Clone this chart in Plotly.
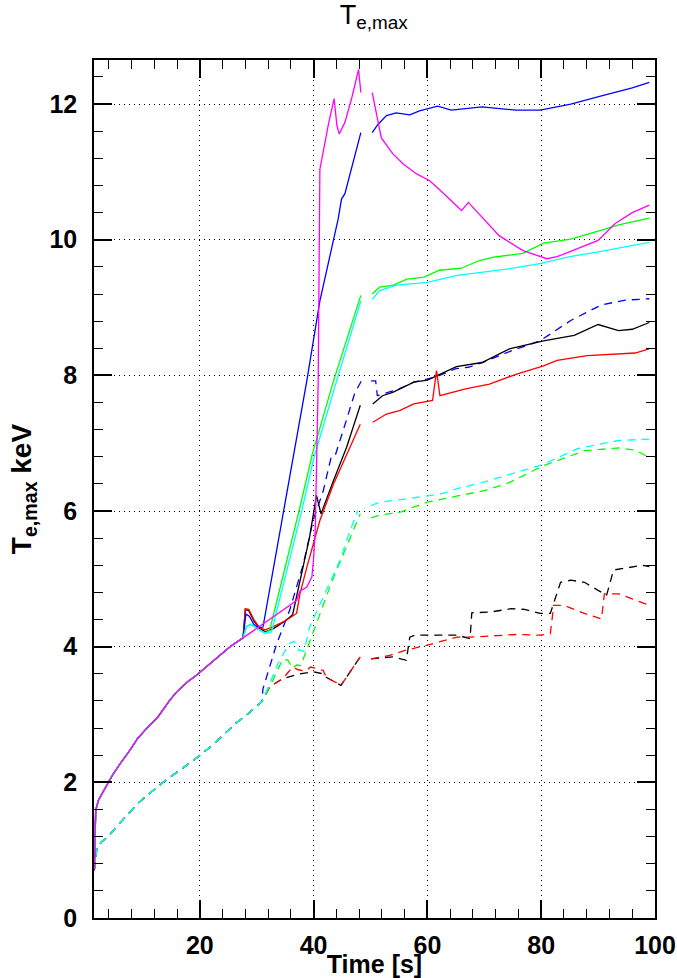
import plotly.graph_objects as go

# ---------------- data ----------------
# common start of all solid curves
base_solid_x = [1.45, 1.7, 2.2, 3.4, 4.6, 6.2, 7.7, 9.1, 10.7, 12.6, 14.7, 15.9, 17.8, 19.4, 22.4, 25.3, 27.6]
base_solid_y = [0.70, 1.59, 1.74, 1.93, 2.10, 2.30, 2.47, 2.65, 2.80, 2.96, 3.21, 3.33, 3.48, 3.58, 3.80, 4.00, 4.13]

# common start of all dashed curves
base_dash_x = [1.45, 1.9, 2.7, 3.9, 5.6, 9.1, 13.2, 17.3, 19.6, 22.5, 26.3, 28.2, 30.9]
base_dash_y = [0.70, 1.03, 1.12, 1.20, 1.37, 1.69, 1.98, 2.23, 2.37, 2.57, 2.87, 2.99, 3.19]

# solid tails (None = gap in data)
black_solid_x = [28.0, 28.6, 29.5, 30.5, 31.5, 33.0, 35.0, 36.3, 37.6, 39.3, 40.5, 41.3, 43.5, 45.8, 48.2, None,
                 50.4, 52.1, 53.9, 57.6, 60.0, 65.1, 69.6, 74.4, 80.4, 85.8, 90.0, 93.6, 96.0, 99.0]
black_solid_y = [4.55, 4.53, 4.38, 4.27, 4.22, 4.27, 4.38, 4.47, 4.98, 5.62, 6.23, 5.96, 6.45, 6.94, 7.56, None,
                 7.58, 7.70, 7.75, 7.90, 7.93, 8.13, 8.19, 8.39, 8.51, 8.59, 8.75, 8.66, 8.68, 8.78]

red_solid_x = [28.0, 28.6, 29.5, 30.5, 31.5, 33.0, 35.0, 37.0, 37.6, 38.8, 41.1, 43.5, 45.8, 48.2, None,
               50.4, 52.8, 55.1, 57.6, 60.9, 61.6, 62.2, 66.7, 70.9, 75.7, 80.4, 82.8, 88.1, 93.6, 96.5, 99.0]
red_solid_y = [4.56, 4.55, 4.40, 4.28, 4.25, 4.30, 4.38, 4.49, 4.78, 5.17, 5.86, 6.40, 6.84, 7.28, None,
               7.31, 7.43, 7.48, 7.58, 7.63, 8.07, 7.70, 7.80, 7.87, 8.02, 8.14, 8.22, 8.29, 8.31, 8.33, 8.39]

blue_solid_x = [28.1, 28.7, 29.5, 30.3, 31.1, 38.8, 41.1, 44.3, 44.9, 45.5, 48.3, None,
                50.3, 51.3, 52.8, 54.5, 56.9, 58.6, 61.8, 64.2, 69.6, 75.6, 79.8, 85.2, 90.6, 96.0, 99.0]
blue_solid_y = [4.48, 4.45, 4.33, 4.28, 4.29, 7.92, 9.10, 10.30, 10.60, 10.68, 11.58, None,
                11.58, 11.70, 11.83, 11.87, 11.84, 11.90, 11.97, 11.91, 11.96, 11.91, 11.91, 12.00, 12.12, 12.24, 12.32]

green_solid_x = [28.2, 29.0, 30.0, 31.5, 32.3, 37.6, 39.3, 39.8, 43.5, 48.3, None,
                 50.3, 51.6, 54.0, 56.4, 59.4, 62.1, 66.0, 69.0, 71.4, 76.8, 80.4, 85.2, 90.6, 93.6, 99.0]
green_solid_y = [4.30, 4.33, 4.27, 4.20, 4.25, 6.06, 6.65, 6.85, 7.92, 9.18, None,
                 9.20, 9.30, 9.33, 9.42, 9.45, 9.55, 9.58, 9.69, 9.74, 9.80, 9.95, 10.01, 10.14, 10.22, 10.32]

cyan_solid_x = [28.2, 29.0, 30.0, 31.0, 32.0, 32.6, 37.9, 39.6, 40.1, 43.8, 48.3, None,
                50.3, 51.6, 54.6, 60.0, 65.0, 70.0, 75.0, 80.0, 85.0, 90.0, 95.0, 99.0]
cyan_solid_y = [4.30, 4.33, 4.28, 4.22, 4.20, 4.22, 6.00, 6.60, 6.80, 7.85, 9.10, None,
                9.12, 9.25, 9.33, 9.37, 9.47, 9.52, 9.58, 9.65, 9.75, 9.82, 9.90, 9.96]

magenta_solid_x = [37.0, 37.6, 38.8, 39.7, 40.0, 40.3, 40.8, 41.1, 42.6, 43.6, 44.1, 44.5, 45.5, 46.7, 47.9, 48.3, None,
                   50.3, 51.9, 53.9, 55.7, 58.1, 60.4, 62.1, 66.0, 67.2, 68.1, 72.6, 76.8, 81.0, 82.8, 90.0, 93.0, 96.0, 99.0]
magenta_solid_y = [4.68, 4.82, 4.88, 5.03, 5.30, 5.76, 7.90, 11.04, 11.70, 12.08, 11.68, 11.56, 11.73, 12.09, 12.51, 12.17, None,
                   12.17, 11.50, 11.27, 11.12, 10.97, 10.87, 10.74, 10.43, 10.55, 10.47, 10.06, 9.84, 9.72, 9.75, 9.99, 10.24, 10.40, 10.51]

# dashed tails
black_dash_x = [32.3, 34.6, 37.6, 39.9, 41.7, 42.2, 44.8, 48.2, None,
                50.1, 53.9, 56.3, 56.9, 57.8, 65.2, 67.5, 67.8, 71.0, 74.7, 77.1, 79.8, 81.6, 83.4, 85.2, 87.6, 90.0, 91.5, 92.7, 94.8, 97.8, 99.0]
black_dash_y = [3.41, 3.53, 3.60, 3.63, 3.60, 3.55, 3.43, 3.85, None,
                3.82, 3.85, 3.80, 4.14, 4.17, 4.17, 4.12, 4.50, 4.51, 4.56, 4.55, 4.49, 4.49, 4.95, 4.98, 4.95, 4.83, 4.76, 5.13, 5.16, 5.20, 5.18]

red_dash_x = [32.3, 34.6, 35.5, 36.3, 37.3, 38.5, 39.5, 40.5, 41.7, 42.2, 44.8, 48.2, None,
              50.1, 53.3, 56.3, 59.8, 65.2, 67.2, 75.7, 79.8, 81.6, 82.2, 84.0, 87.6, 90.6, 91.1, 93.6, 96.6, 99.0]
red_dash_y = [3.41, 3.53, 3.62, 3.70, 3.66, 3.64, 3.70, 3.68, 3.65, 3.55, 3.43, 3.85, None,
              3.82, 3.87, 3.95, 4.02, 4.14, 4.14, 4.18, 4.17, 4.19, 4.61, 4.61, 4.49, 4.41, 4.78, 4.78, 4.68, 4.61]

blue_dash_x = [31.1, 33.5, 35.8, 38.2, 39.9, 41.7, 43.1, 43.8, 45.2, 47.2, 48.4, None,
               50.1, 50.9, 51.2, 53.0, 55.0, 57.6, 60.0, 61.6, 65.0, 67.2, 70.0, 75.0, 79.8, 85.2, 90.6, 94.8, 99.0]
blue_dash_y = [3.38, 4.04, 4.54, 5.22, 5.86, 6.30, 6.80, 6.82, 7.19, 7.73, 7.92, None,
               7.92, 7.92, 7.70, 7.75, 7.80, 7.90, 7.95, 7.98, 8.10, 8.12, 8.20, 8.37, 8.51, 8.81, 9.04, 9.11, 9.13]

green_dash_x = [32.5, 34.6, 35.5, 36.3, 37.0, 37.8, 38.1, 43.3, 48.2, None,
                50.1, 51.6, 55.1, 60.0, 65.7, 70.0, 74.4, 80.4, 87.6, 93.6, 96.5, 99.0]
green_dash_y = [3.45, 3.82, 3.80, 3.68, 3.73, 3.72, 3.80, 4.98, 5.96, None,
                5.90, 5.94, 5.98, 6.13, 6.23, 6.30, 6.42, 6.67, 6.89, 6.93, 6.90, 6.79]

cyan_dash_x = [32.5, 34.0, 35.8, 36.6, 37.4, 38.3, 39.3, 42.2, 43.4, 44.6, 46.4, 47.8, None,
               50.1, 51.6, 56.3, 60.0, 62.2, 65.7, 69.6, 80.4, 86.4, 93.6, 99.0]
cyan_dash_y = [3.50, 3.80, 4.05, 4.08, 3.95, 3.93, 4.29, 4.83, 5.07, 5.27, 5.71, 6.01, None,
               6.08, 6.13, 6.18, 6.23, 6.25, 6.34, 6.42, 6.69, 6.92, 7.04, 7.06]

x_tick_vals = [20, 40, 60, 80, 100]
y_tick_vals = [0, 2, 4, 6, 8, 10, 12]

# ---------------- figure ----------------
fig = go.Figure()
DASH = "8px,6px"

dashed = [("black", black_dash_x, black_dash_y),
          ("red", red_dash_x, red_dash_y),
          ("#0000ff", blue_dash_x, blue_dash_y),
          ("#00ff00", green_dash_x, green_dash_y),
          ("#00ffff", cyan_dash_x, cyan_dash_y)]
for col, tx, ty in dashed:
    fig.add_trace(go.Scatter(x=base_dash_x + tx, y=base_dash_y + ty, mode="lines",
                             line=dict(color=col, width=1.3, dash=DASH),
                             connectgaps=False, showlegend=False, hoverinfo="skip"))

solid = [("black", black_solid_x, black_solid_y),
         ("red", red_solid_x, red_solid_y),
         ("#0000ff", blue_solid_x, blue_solid_y),
         ("#00ff00", green_solid_x, green_solid_y),
         ("#00ffff", cyan_solid_x, cyan_solid_y),
         ("#ff00ff", magenta_solid_x, magenta_solid_y)]
for col, tx, ty in solid:
    fig.add_trace(go.Scatter(x=base_solid_x + tx, y=base_solid_y + ty, mode="lines",
                             line=dict(color=col, width=1.3),
                             connectgaps=False, showlegend=False, hoverinfo="skip"))

axis_common = dict(
    showline=True, linecolor="black", linewidth=1.5, mirror="ticks",
    ticks="inside", ticklen=18, tickwidth=1.5, tickcolor="black",
    showgrid=True, gridcolor="black", gridwidth=1, griddash="1px,4px",
    zeroline=False, automargin=False,
    tickfont=dict(family="Liberation Sans", size=25, color="black", weight="bold"),
    minor=dict(ticks="inside", ticklen=9, tickwidth=1, tickcolor="black", showgrid=False),
)

fig.update_layout(
    width=677, height=978,
    margin=dict(l=94, r=22, t=60, b=60, autoexpand=False),
    paper_bgcolor="white", plot_bgcolor="white",
    xaxis=dict(range=[1.4, 100], tickvals=x_tick_vals, ticktext=[str(v) for v in x_tick_vals],
               minor_dtick=4, minor_tick0=0,
               title=dict(text="Time [s]", standoff=0,
                          font=dict(family="Liberation Sans", size=25, color="black", weight="bold")),
               ticklabelstandoff=4,
               **axis_common),
    yaxis=dict(range=[0, 12.65], tickvals=y_tick_vals, ticktext=[str(v) for v in y_tick_vals],
               minor_dtick=0.4, minor_tick0=0,
               title=dict(text="T<sub>e,max</sub> keV", standoff=10,
                          font=dict(family="Liberation Sans", size=28, color="black", weight="bold")),
               ticklabelstandoff=10,
               **axis_common),
    title=dict(text="T<sub>e,max</sub>", x=0.552, xanchor="center", y=0.995, yanchor="top",
               font=dict(family="Liberation Sans", size=27, color="black")),
)

fig.write_html("out.html")
